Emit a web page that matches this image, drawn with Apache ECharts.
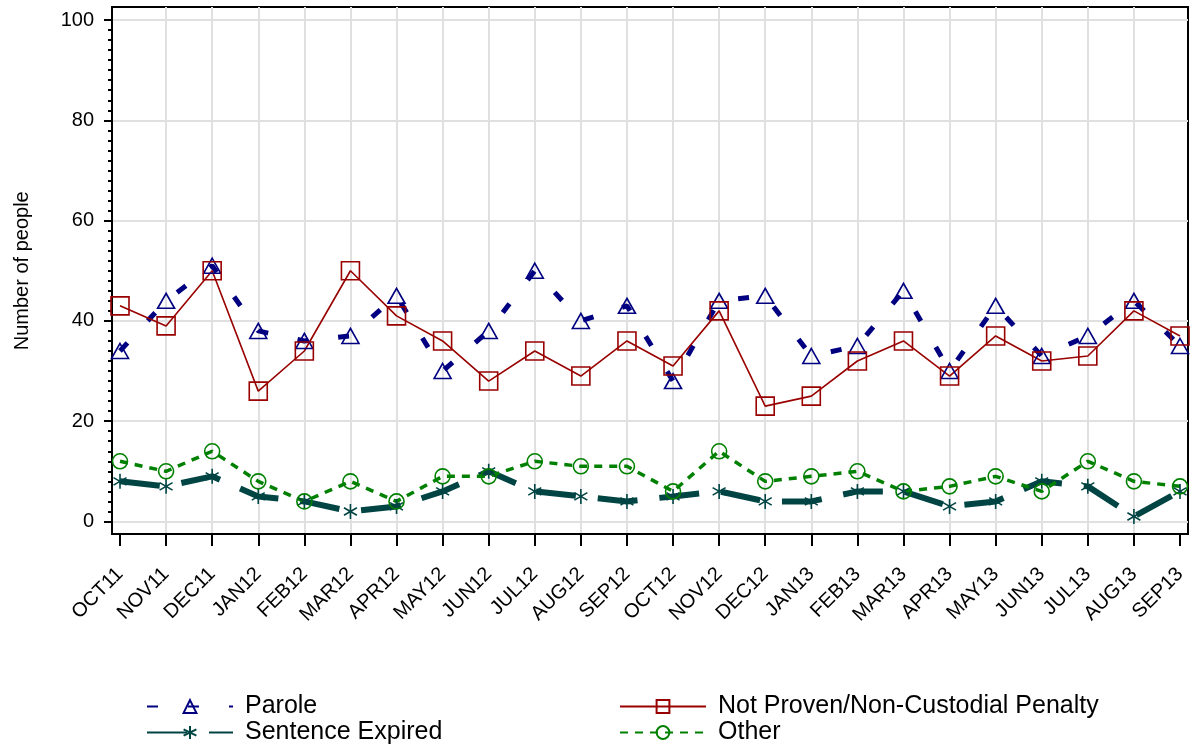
<!DOCTYPE html>
<html>
<head>
<meta charset="utf-8">
<script src="https://cdn.jsdelivr.net/npm/echarts@6/dist/echarts.min.js"></script>
<style>
html,body{margin:0;padding:0;background:#fff;}
#chart{width:1191px;height:749px;}
</style>
</head>
<body>
<div id="chart"></div>
<script>
const months = ['OCT11','NOV11','DEC11','JAN12','FEB12','MAR12','APR12','MAY12','JUN12','JUL12','AUG12','SEP12',
                'OCT12','NOV12','DEC12','JAN13','FEB13','MAR13','APR13','MAY13','JUN13','JUL13','AUG13','SEP13'];
const parole      = [34,44,51,38,36,37,45,30,38,50,40,43,28,44,45,33,35,46,30,43,33,37,44,35];
const notProven   = [43,39,50,26,34,50,41,36,28,34,29,36,31,42,23,25,32,36,29,37,32,33,42,37];
const sentenceExp = [8,7,9,5,4,2,3,6,10,6,5,4,5,6,4,4,6,6,3,4,8,7,1,6];
const other       = [12,10,14,8,4,8,4,9,9,12,11,11,6,14,8,9,10,6,7,9,6,12,8,7];

const font = 'Liberation Sans, Arial, sans-serif';
const idx = months.map((m,i)=>i);
const pairs = arr => arr.map((v,i)=>[i,v]);
const asterisk = 'path://M10,0L10,20M1.34,5L18.66,15M1.34,15L18.66,5';

const NAVY = '#000080', RED = '#990000', GREEN = '#008000', TEAL = '#004444';

// frame range (grid 0) and value range (grid 1)
const Y_LO = -2.5, Y_HI = 102.6, X_LO = -0.1736, X_HI = 23.1736;
const TOP = 7, BOT = 534, H = 749;
const ppu = (BOT - TOP) / (Y_HI - Y_LO);
const top1 = TOP + (Y_HI - 100) * ppu;
const bot1 = BOT - (0 - Y_LO) * ppu;

const legendText = {fontSize: 25, lineHeight: 25, color: '#000', fontFamily: font, padding: [0,0,0,7]};

const chart = echarts.init(document.getElementById('chart'), null, {renderer:'canvas'});
chart.setOption({
  animation: false,
  backgroundColor: '#fff',
  textStyle: {fontFamily: font},
  grid: [
    {left: 112, right: 3, top: TOP, bottom: H - BOT, outerBoundsMode: 'none', containLabel: false,
     show: true, borderColor: '#000', borderWidth: 2, backgroundColor: 'transparent'},
    {left: 112, right: 3, top: top1, bottom: H - bot1, outerBoundsMode: 'none', containLabel: false, show: false}
  ],
  xAxis: [{
    gridIndex: 0, type: 'value', min: X_LO, max: X_HI, minInterval: 1, maxInterval: 1,
    axisLine: {show: true, onZero: false, lineStyle: {color: '#000', width: 2}},
    axisTick: {show: true, customValues: idx, length: 12, lineStyle: {color: '#000', width: 2}},
    axisLabel: {customValues: idx, formatter: v => months[Math.round(v)], rotate: 45, fontSize: 20,
                color: '#000', margin: 37, fontFamily: font},
    splitLine: {show: true, showMinLine: false, showMaxLine: false, lineStyle: {color: '#e0e0e0', width: 2}}
  }, {
    gridIndex: 1, type: 'value', min: X_LO, max: X_HI, show: false
  }],
  yAxis: [{
    gridIndex: 0, type: 'value', min: Y_LO, max: Y_HI,
    axisLine: {show: true, onZero: false, lineStyle: {color: '#000', width: 2}},
    axisTick: {show: false}, axisLabel: {show: false}, splitLine: {show: false}
  }, {
    gridIndex: 1, type: 'value', min: 0, max: 100, interval: 20, position: 'left',
    name: 'Number of people', nameLocation: 'middle', nameGap: 80, nameRotate: 90,
    nameTextStyle: {fontSize: 20, color: '#000', fontFamily: font},
    axisLine: {show: false, onZero: false},
    axisTick: {show: true, length: 8, lineStyle: {color: '#000', width: 2}},
    minorTick: {show: true, splitNumber: 10, length: 4, lineStyle: {color: '#000', width: 2}},
    axisLabel: {fontSize: 20, color: '#000', margin: 18, fontFamily: font},
    splitLine: {show: true, lineStyle: {color: '#e0e0e0', width: 2}}
  }],
  legend: [{
    data: ['Parole', 'Sentence Expired'], orient: 'vertical', left: 146, top: 694, padding: 0,
    itemWidth: 86, itemHeight: 16, itemGap: 1, textStyle: legendText
  }, {
    data: ['Not Proven/Non-Custodial Penalty', 'Other'], orient: 'vertical', left: 619, top: 694, padding: 0,
    itemWidth: 86, itemHeight: 16, itemGap: 1, textStyle: legendText
  }],
  series: [{
    name: 'Parole', type: 'line', xAxisIndex: 0, yAxisIndex: 0, data: pairs(parole),
    symbol: 'triangle', symbolSize: [17, 15],
    itemStyle: {color: 'rgba(0,0,0,0)', borderColor: NAVY, borderWidth: 1.6},
    lineStyle: {color: NAVY, width: 5, type: [11, 30]}
  }, {
    name: 'Not Proven/Non-Custodial Penalty', type: 'line', xAxisIndex: 0, yAxisIndex: 0, data: pairs(notProven),
    symbol: 'rect', symbolSize: 18,
    itemStyle: {color: 'rgba(0,0,0,0)', borderColor: RED, borderWidth: 1.6},
    lineStyle: {color: RED, width: 1.6}
  }, {
    name: 'Sentence Expired', type: 'line', xAxisIndex: 0, yAxisIndex: 0, data: pairs(sentenceExp),
    symbol: asterisk, symbolSize: 15, symbolKeepAspect: true,
    itemStyle: {color: 'rgba(0,0,0,0)', borderColor: TEAL, borderWidth: 1.6},
    lineStyle: {color: TEAL, width: 6, type: [40, 22]}
  }, {
    name: 'Other', type: 'line', xAxisIndex: 0, yAxisIndex: 0, data: pairs(other),
    symbol: 'circle', symbolSize: 15,
    itemStyle: {color: 'rgba(0,0,0,0)', borderColor: GREEN, borderWidth: 1.6},
    lineStyle: {color: GREEN, width: 3.5, type: [8, 7]}
  }]
});
</script>
</body>
</html>
